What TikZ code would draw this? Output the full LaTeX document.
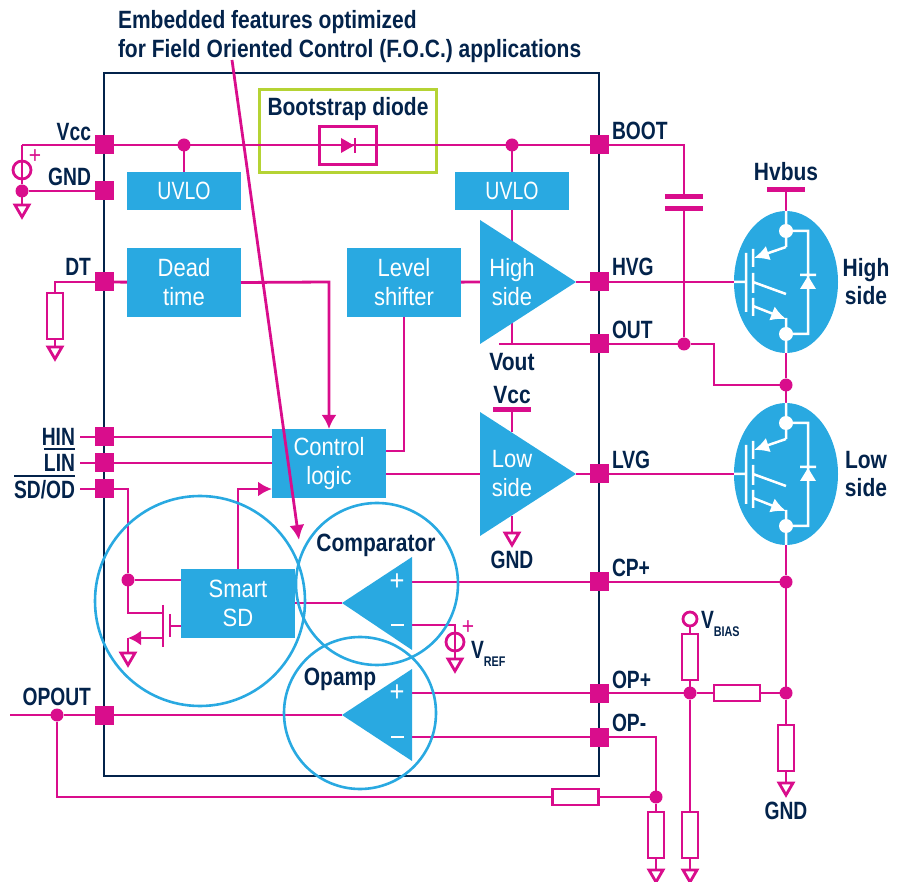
\documentclass[tikz,border=0pt]{standalone}
\usepackage{fontspec}
\usepackage{tikz}
\usetikzlibrary{arrows.meta}
\newfontfamily\bodyfont[FakeStretch=0.84]{Liberation Sans}
\newfontfamily\capsfont[FakeStretch=0.77]{Liberation Sans}
\newfontfamily\whitefont[FakeStretch=0.88]{Liberation Sans}
\newfontfamily\whitecaps[FakeStretch=0.78]{Liberation Sans}
\definecolor{stpink}{HTML}{D90D8C}
\definecolor{stblue}{HTML}{29A9E1}
\definecolor{stnavy}{HTML}{03234B}
\definecolor{stgreen}{HTML}{B5D334}
\tikzset{
	wire/.style={draw=stpink, line width=2.8pt},
	pinbox/.style={fill=stpink, minimum size=19pt, inner sep=0, outer sep=0},
	dotnode/.style={circle, fill=stpink, minimum size=13pt, inner sep=0, outer sep=0},
	blockbox/.style={fill=stblue, minimum width=114pt, inner sep=0, outer sep=0, text=white, align=center, font=\whitefont\fontsize{25}{29}\selectfont},
	resv/.style={draw=stpink, fill=white, line width=2.8pt, minimum width=16pt, minimum height=46pt, inner sep=0, outer sep=0},
	resh/.style={draw=stpink, fill=white, line width=2.8pt, minimum width=46pt, minimum height=16pt, inner sep=0, outer sep=0},
	railbar/.style={fill=stpink, minimum width=38pt, minimum height=5pt, inner sep=0, outer sep=0},
	ringnode/.style={circle, draw=stblue, line width=2.6pt, inner sep=0, outer sep=0},
	srcnode/.style={circle, draw=stpink, line width=2.8pt, minimum size=18pt, inner sep=0, outer sep=0},
	txtnode/.style={text=stnavy, inner sep=0, outer sep=0, text height=18pt, text depth=1.5pt, font=\bodyfont\bfseries\fontsize{25}{29}\selectfont},
	capnode/.style={txtnode, font=\capsfont\bfseries\fontsize{25}{29}\selectfont},
	sidenode/.style={text=stnavy, inner sep=0, align=center, font=\bodyfont\bfseries\fontsize{25}{28}\selectfont},
	insidenode/.style={text=white, inner sep=0, align=center, font=\whitefont\fontsize{25}{29}\selectfont},
	pics/gndsym/.style={code={\draw[wire, fill=white] (-7,0) -- (7,0) -- (0,12) -- cycle;}},
	pics/igbtsym/.style={code={
		\fill[stblue] (0,0) ellipse (52 and 71);
		\draw[draw=white, line width=2.5pt]
			(-52,0) -- (-40,0) (-40,-29) -- (-40,30)
			(-33,-33) -- (-33,-15) (-33,-9) -- (-33,11) (-33,16) -- (-33,34)
			(0,-71) -- (0,-35) (-33,0) -- (0,12) (0,36) -- (0,71)
			(0,-51) -- (22,-51) -- (22,52) -- (0,52)
			(14,-7) -- (30,-7);
		\draw[draw=white, line width=2.5pt, -{Latex[length=15pt,width=15pt]}] (0,-35) -- (-32,-24);
		\draw[draw=white, line width=2.5pt, -{Latex[length=15pt,width=15pt]}] (-33,24) -- (0,37);
		\fill[white] (22,-6) -- (30,7) -- (14,7) -- cycle;
		\fill[white] (0,-51) circle (7) (0,52) circle (7);
	}}
}
\begin{document}
\begin{tikzpicture}[x=1pt, y=-1pt]
	\useasboundingbox (0,0) rectangle (906,882);

	% package outline and pins
	\node[draw=stnavy, line width=2.8pt, minimum width=495pt, minimum height=703pt, inner sep=0, outer sep=0] (chip) at (351.5,424.5) {};
	\node[draw=stgreen, line width=2.6pt, minimum width=177pt, minimum height=83pt, inner sep=0, outer sep=0] (bootframe) at (348,131) {};
	\node[txtnode] (boottxt) at (348,107) {Bootstrap diode};

	\foreach \pinname/\yy in {vccpin/145, gndpin/191, dtpin/282, hinpin/437, linpin/463, sdpin/489, opoutpin/715}
		\node[pinbox] (\pinname) at (104,\yy) {};
	\foreach \pinname/\yy in {bootpin/145, hvgpin/282, outpin/344, lvgpin/474, cppin/582, oppluspin/693, opminuspin/737}
		\node[pinbox] (\pinname) at (599,\yy) {};

	\foreach \pinname/\xx/\yy/\pintxt in {vcctxt/91/132/Vcc, gndtxt/91/177/GND, dttxt/91/267/DT, hintxt/75/437/HIN, lintxt/75/463/LIN, opouttxt/91/697/OPOUT}
		\node[capnode, anchor=east] (\pinname) at (\xx,\yy) {\pintxt};
	\node[capnode, anchor=east] (sdtxt) at (75,490) {SD/OD};
	\foreach \pinname/\yy/\pintxt in {bootlabel/131/BOOT, hvgtxt/267/HVG, outtxt/330/OUT, lvgtxt/460/LVG, cptxt/568/CP+, opplustxt/680/OP+, opminustxt/723/OP-}
		\node[capnode, anchor=west] (\pinname) at (612,\yy) {\pintxt};
	\draw[stnavy, line width=1.5pt] ([yshift=4pt]lintxt.north west) -- ([yshift=4pt]lintxt.north east);
	\draw[stnavy, line width=1.5pt] ([yshift=4pt]sdtxt.north west) -- ([yshift=4pt]sdtxt.north east);

	% blocks
	\node[blockbox, minimum height=38pt, font=\whitecaps\fontsize{25}{29}\selectfont] (uvloa) at (184,191) {UVLO};
	\node[blockbox, minimum height=38pt, font=\whitecaps\fontsize{25}{29}\selectfont] (uvlob) at (512,191) {UVLO};
	\node[blockbox, minimum height=69pt] (deadtime) at (184,282.5) {Dead\\time};
	\node[blockbox, minimum height=69pt] (levelshift) at (404,282.5) {Level\\shifter};
	\node[blockbox, minimum height=69pt] (control) at (329,463.5) {Control\\logic};
	\node[blockbox, minimum height=69pt] (smartsd) at (238,603.5) {Smart\\SD};

	% junctions
	\node[dotnode] (dotuvloa) at (184,145) {};
	\node[dotnode] (dotuvlob) at (512,145) {};
	\node[dotnode] (dotgnd) at (22,191) {};
	\node[dotnode] (dotout) at (684,344) {};
	\node[dotnode] (dotmid) at (786,385) {};
	\node[dotnode] (dotcp) at (786,582) {};
	\node[dotnode] (dotsd) at (128,580) {};
	\node[dotnode] (dotbias) at (690,693) {};
	\node[dotnode] (dotplus) at (786,693) {};
	\node[dotnode] (dotopout) at (57,715) {};
	\node[dotnode] (dotminus) at (656,797) {};

	% free ends
	\coordinate (vcccorner) at (22,145);
	\coordinate (hintail) at (80,437);
	\coordinate (lintail) at (80,463);
	\coordinate (sdtail) at (80,489);
	\coordinate (optail) at (10,715);
	\coordinate (hsin) at (480,282);
	\coordinate (hstip) at (576,282);
	\coordinate (lsin) at (480,474);
	\coordinate (lstip) at (576,474);
	\coordinate (cmptip) at (342,603);
	\coordinate (cmpplus) at (412,582);
	\coordinate (cmpminus) at (412,625);
	\coordinate (amptip) at (342,715);
	\coordinate (ampplus) at (412,693);
	\coordinate (ampminus) at (412,737);
	\coordinate (outstart) at (499,344);
	\coordinate (outdrop) at (512,344);
	\coordinate (hihi) at (734,282);
	\coordinate (lolo) at (734,474);
	\coordinate (hitop) at (786,211);
	\coordinate (hibot) at (786,353);
	\coordinate (lotop) at (786,403);
	\coordinate (lobot) at (786,545);
	\coordinate (lsmidtop) at (512,432);
	\coordinate (lsmidbot) at (512,516);
	\coordinate (bootcap) at (684,145);
	\coordinate (mosdrain) at (128,613);
	\coordinate (mosgate) at (170,626);
	\coordinate (mossrc) at (163,638);
	\coordinate (mosturn) at (128,638);
	\coordinate (vrefcorner) at (455,625);

	% parts on the wires
	\node[railbar] (plateup) at (684,197) {};
	\node[railbar] (platedown) at (684,209) {};
	\node[railbar] (hvbusbar) at (786,190) {};
	\node[railbar] (vccbar) at (512,410) {};
	\node[resv] (resdt) at (55,316) {};
	\node[resv] (resbias) at (690,657) {};
	\node[resv] (resplus) at (786,748) {};
	\node[resv] (resbiasb) at (690,835) {};
	\node[resv] (resminus) at (656,835) {};
	\node[resh] (resmid) at (737,693) {};
	\node[resh] (resfb) at (575.5,797) {};
	\node[srcnode] (srca) at (22,170) {};
	\node[srcnode] (srcb) at (455,642) {};
	\node[circle, draw=stpink, fill=white, line width=2.8pt, minimum size=14pt, inner sep=0, outer sep=0] (biasend) at (690,619) {};
	\coordinate (gnda) at (22,205);
	\coordinate (gndb) at (55,347);
	\coordinate (gndc) at (128,653);
	\coordinate (gndd) at (455,659);
	\coordinate (gnde) at (512,533);
	\coordinate (gndf) at (786,783);
	\coordinate (gndg) at (656,870);
	\coordinate (gndh) at (690,870);

	% wiring
	\draw[wire] (vcccorner) -- (vccpin) -- (bootpin) -- (bootcap) -- (plateup);
	\draw[wire] (platedown) -- (dotout);
	\draw[wire] (vcccorner) -- (srca) (srca) -- (dotgnd) -- (gndpin);
	\draw[wire] (srca.north) -- (srca.south);
	\draw[wire] (dotgnd) -- (gnda);
	\draw[wire] (dotuvloa) -- (uvloa);
	\draw[wire] (dotuvlob) -- (uvlob) -- (512,250);
	\draw[wire] (512,320) -- (outdrop);
	\draw[wire] (outstart) -- (outpin) -- (dotout);
	\draw[wire] (dtpin) -| (resdt.north);
	\draw[wire] (resdt) -- (gndb);
	\draw[wire] (dtpin) -- (deadtime);
	\draw[wire] (levelshift) -- (hsin);
	\draw[wire] (hstip) -- (hvgpin) -- (hihi);
	\draw[wire] (control.east |- lsin) -- (lsin);
	\draw[wire] (lstip) -- (lvgpin) -- (lolo);
	\draw[wire] (levelshift.south) |- (control.east |- 0,451);
	\draw[wire] (hintail) -- (hinpin) -- (control.west |- hinpin);
	\draw[wire] (lintail) -- (linpin) -- (control.west |- linpin);
	\draw[wire] (sdtail) -- (sdpin) -| (dotsd);
	\draw[wire] (dotsd) -- (smartsd.west |- dotsd);
	\draw[wire] (dotsd) -- (mosdrain) -- (mosdrain -| mossrc);
	\draw[wire, line width=2pt] (163,605) -- (163,647);
	\draw[wire, line width=2pt] (170,614) -- (170,637);
	\draw[wire] (mosgate) -- (smartsd.west |- mosgate);
	\draw[wire] (mosturn) -- (gndc);
	\draw[wire, -{Latex[length=13pt,width=15pt]}] (mossrc) -- (mosturn);
	\draw[wire, -{Latex[length=14pt,width=15pt]}] (deadtime.east) -- (329,282) -- (control.north);
	\draw[wire, -{Latex[length=14pt,width=15pt]}] (smartsd.north) |- (control.west |- 0,489);
	\draw[wire] (smartsd.east |- cmptip) -- (cmptip);
	\draw[wire] (cmpplus) -- (cppin) -- (dotcp);
	\draw[wire] (cmpminus) -- (vrefcorner) -- (srcb);
	\draw[wire] (vrefcorner) -- (gndd);
	\draw[wire] (ampplus) -- (oppluspin) -- (dotbias) -- (resmid) -- (dotplus);
	\draw[wire] (biasend) -- (resbias) -- (dotbias) -- (resbiasb) -- (gndh);
	\draw[wire] (optail) -- (dotopout) -- (opoutpin) -- (amptip);
	\draw[wire] (dotopout) |- (resfb) -- (dotminus);
	\draw[wire] (ampminus) -- (opminuspin) -| (dotminus);
	\draw[wire] (dotminus) -- (resminus) -- (gndg);
	\draw[wire] (hvbusbar) -- (hitop);
	\draw[wire] (hibot) -- (dotmid) -- (lotop);
	\draw[wire] (lobot) -- (dotcp) -- (dotplus) -- (resplus) -- (gndf);
	\draw[wire] (dotout) -- (714,344) -- (714,385) -- (dotmid);
	\draw[wire] (vccbar) -- (lsmidtop);
	\draw[wire] (lsmidbot) -- (gnde);
	\node[resv, minimum width=57pt, minimum height=38pt, fill=none] (diodebox) at (348,145.5) {};
	\fill[stpink] (341,138) -- (354,145.5) -- (341,153) -- cycle;
	\draw[stpink, line width=2.4pt] (355,138) -- (355,153);

	% drivers and amplifiers
	\fill[stblue] (hsin |- 0,220) -- (hstip) -- (hsin |- 0,344) -- cycle;
	\fill[stblue] (lsin |- 0,412) -- (lstip) -- (lsin |- 0,536) -- cycle;
	\fill[stblue] (cmptip) -- (412,557) -- (412,650) -- cycle;
	\fill[stblue] (amptip) -- (412,669) -- (412,761) -- cycle;
	\node[insidenode] (hightxt) at (512,282) {High\\side};
	\node[insidenode] (lowtxt) at (512,474) {Low\\side};
	\foreach \signname/\yy in {cmpplustxt/582, ampplustxt/693}
		\node[insidenode, font=\whitefont\fontsize{29}{29}\selectfont] (\signname) at (397,\yy) {+};
	\foreach \signname/\yy in {cmpminustxt/625, ampminustxt/737}
		\node[fill=white, minimum width=13pt, minimum height=2pt, inner sep=0] (\signname) at (397,\yy) {};

	% switches
	\pic at (786,282) {igbtsym};
	\pic at (786,474) {igbtsym};

	% grounds
	\foreach \gndname in {gnda, gndb, gndc, gndd, gnde, gndf, gndg, gndh}
		\pic at (\gndname) {gndsym};

	% zones
	\node[ringnode, minimum size=210pt] (ringsd) at (200,601) {};
	\node[ringnode, minimum size=162pt] (ringcmp) at (377,584) {};
	\node[ringnode, minimum size=152pt] (ringamp) at (360,713) {};

	% texts
	\node[txtnode, anchor=west] (capa) at (118,20) {Embedded features optimized};
	\node[txtnode, anchor=west] (capb) at (118,49) {for Field Oriented Control (F.O.C.) applications};
	\node[txtnode] (cmptxt) at (376,543) {Comparator};
	\node[txtnode] (amptxt) at (340,677) {Opamp};
	\node[txtnode] (vouttxt) at (512,362) {Vout};
	\node[txtnode] (vcclow) at (512,395) {Vcc};
	\node[capnode] (gndlow) at (512,560) {GND};
	\node[capnode] (gndright) at (786,811) {GND};
	\node[txtnode] (hvbustxt) at (786,172) {Hvbus};
	\node[sidenode] (hislabel) at (866,282) {High\\side};
	\node[sidenode] (loslabel) at (866,474) {Low\\side};
	\node[capnode, anchor=west] (vbias) at (701,620) {V\raisebox{-8pt}{\fontsize{14}{14}\selectfont BIAS}};
	\node[capnode, anchor=west] (vref) at (471,650) {V\raisebox{-8pt}{\fontsize{14}{14}\selectfont REF}};
	\node[text=stpink, inner sep=0, font=\whitefont\fontsize{24}{24}\selectfont] (plusa) at (35,157) {+};
	\node[text=stpink, inner sep=0, font=\whitefont\fontsize{24}{24}\selectfont] (plusb) at (468,628) {+};

	% pointer from the caption
	\coordinate (ptrstart) at (232,60);
	\coordinate (ptrend) at (299,540);
	\draw[wire, -{Latex[length=15pt,width=15pt]}] (ptrstart) -- (ptrend);
\end{tikzpicture}
\end{document}
